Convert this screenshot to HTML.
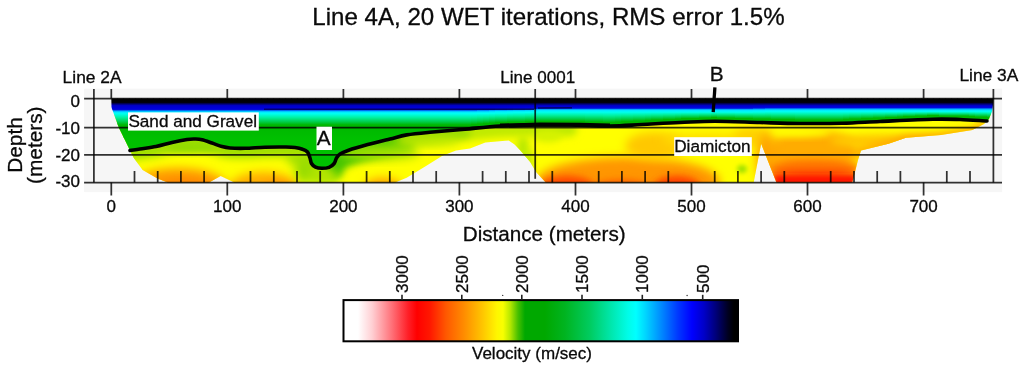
<!DOCTYPE html><html><head><meta charset="utf-8"><title>Line 4A</title>
<style>html,body{margin:0;padding:0;background:#fff;overflow:hidden}svg{display:block}text{font-family:"Liberation Sans",Arial,sans-serif;fill:#0a0a0a;stroke:#0a0a0a;stroke-width:0.3px}</style></head><body>
<svg width="1024" height="369" viewBox="0 0 1024 369">
<defs>
<clipPath id="cf"><path d="M111.3 98.6L993.3 98.6L993.0 105.0L992.0 111.4L989.0 119.0L984.0 124.0L972.4 130.0L941.0 134.9L906.0 137.8L888.5 143.7L861.0 150.5L858.0 160.0L852.3 182.5L776.4 182.5L761.1 143.5L753.7 182.5L545.8 182.5L536.0 172.0L530.2 162.0L520.4 150.4L514.6 144.6L508.7 140.6L505.0 140.7L485.3 142.6L470.0 148.4L456.0 150.4L442.0 156.0L426.0 166.0L406.7 177.7L395.0 182.5L234.4 182.5L220.7 176.0L209.0 182.5L168.0 182.5L158.0 178.7L142.6 170.0L133.8 158.0L130.0 150.5L118.8 127.7L113.2 112.0L112.0 109.0L111.5 107.0Z"/></clipPath>
<clipPath id="ca"><path d="M100 90L1000 90L1000 121L987 121C982.5 120.8 969.0 119.8 960.0 119.5C951.0 119.2 946.3 118.9 933.0 119.2C919.7 119.5 895.2 120.8 880.0 121.5C864.8 122.2 855.3 123.0 842.0 123.3C828.7 123.6 813.7 123.6 800.0 123.5C786.3 123.4 774.2 122.9 760.0 122.5C745.8 122.1 728.3 121.2 715.0 121.2C701.7 121.2 692.2 122.0 680.0 122.5C667.8 123.0 653.7 123.9 642.0 124.5C630.3 125.1 622.0 125.9 610.0 126.0C598.0 126.1 582.5 125.2 570.0 125.0C557.5 124.8 546.7 124.8 535.0 125.0C523.3 125.2 511.7 125.3 500.0 126.0C488.3 126.7 476.7 128.1 465.0 129.2C453.3 130.2 439.7 131.4 430.0 132.3C420.3 133.2 413.4 133.8 406.7 134.9C400.0 136.0 396.5 137.4 390.0 139.0C383.5 140.6 374.7 142.7 367.7 144.6C360.7 146.5 352.6 148.9 348.0 150.5C343.4 152.1 341.9 152.8 340.0 154.0C338.1 155.2 337.5 156.4 336.5 158.0C335.5 159.6 335.4 161.9 334.2 163.5C332.9 165.1 331.0 166.5 329.0 167.3C327.0 168.1 324.2 168.3 322.0 168.3C319.8 168.3 317.2 168.0 315.5 167.2C313.8 166.4 312.4 165.0 311.5 163.5C310.6 162.0 310.7 159.9 310.0 158.0C309.3 156.1 308.8 153.5 307.5 152.0C306.2 150.5 304.6 149.9 302.5 149.2C300.4 148.4 298.1 147.9 295.0 147.5C291.9 147.1 289.0 147.1 284.0 147.0C279.0 146.9 271.5 147.0 265.0 147.2C258.5 147.4 250.8 148.2 245.0 148.3C239.2 148.4 233.8 148.3 230.0 148.0C226.2 147.7 225.0 147.4 222.0 146.6C219.0 145.8 215.3 144.1 212.0 143.0C208.7 141.9 204.8 140.5 202.0 139.8C199.2 139.1 197.5 139.1 195.0 139.0C192.5 138.9 190.8 138.9 187.0 139.5C183.2 140.1 177.2 141.3 172.0 142.5C166.8 143.7 161.3 145.5 156.0 146.6C150.7 147.7 144.3 148.3 140.0 149.0C135.7 149.7 131.7 150.2 130.0 150.5L100 150.5Z"/></clipPath>
<filter id="b2" x="-50%" y="-50%" width="200%" height="200%"><feGaussianBlur stdDeviation="2"/></filter>
<filter id="b3" x="-50%" y="-50%" width="200%" height="200%"><feGaussianBlur stdDeviation="3.5"/></filter>
<filter id="b5" x="-50%" y="-50%" width="200%" height="200%"><feGaussianBlur stdDeviation="5"/></filter>
<filter id="b8" x="-50%" y="-50%" width="200%" height="200%"><feGaussianBlur stdDeviation="8"/></filter>
<linearGradient id="g250_554" gradientUnits="userSpaceOnUse" x1="0" y1="0" x2="0" y2="200"><stop offset="0.4900" stop-color="#000000"/><stop offset="0.5120" stop-color="#000008"/><stop offset="0.5200" stop-color="#000070"/><stop offset="0.5280" stop-color="#0000c8"/><stop offset="0.5430" stop-color="#0000dc"/><stop offset="0.5495" stop-color="#0010d8"/><stop offset="0.5540" stop-color="#0098ff"/><stop offset="0.5605" stop-color="#00e8ff"/><stop offset="0.5685" stop-color="#00fff0"/><stop offset="0.5876" stop-color="#00f0a0"/><stop offset="0.6074" stop-color="#00d050"/><stop offset="0.6250" stop-color="#00b600"/><stop offset="0.6950" stop-color="#00c000"/><stop offset="1.0000" stop-color="#00c400"/></linearGradient>
<linearGradient id="g249_554" gradientUnits="userSpaceOnUse" x1="0" y1="0" x2="0" y2="200"><stop offset="0.4900" stop-color="#000000"/><stop offset="0.5120" stop-color="#000008"/><stop offset="0.5200" stop-color="#000070"/><stop offset="0.5280" stop-color="#0000c8"/><stop offset="0.5430" stop-color="#0000dc"/><stop offset="0.5495" stop-color="#0010d8"/><stop offset="0.5540" stop-color="#0098ff"/><stop offset="0.5605" stop-color="#00e8ff"/><stop offset="0.5685" stop-color="#00fff0"/><stop offset="0.5867" stop-color="#00f0a0"/><stop offset="0.6057" stop-color="#00d050"/><stop offset="0.6225" stop-color="#00b600"/><stop offset="0.6925" stop-color="#00c000"/><stop offset="1.0000" stop-color="#00c400"/></linearGradient>
<linearGradient id="g248_553" gradientUnits="userSpaceOnUse" x1="0" y1="0" x2="0" y2="200"><stop offset="0.4900" stop-color="#000000"/><stop offset="0.5120" stop-color="#000008"/><stop offset="0.5200" stop-color="#000070"/><stop offset="0.5280" stop-color="#0000c8"/><stop offset="0.5420" stop-color="#0000dc"/><stop offset="0.5485" stop-color="#0010d8"/><stop offset="0.5530" stop-color="#0098ff"/><stop offset="0.5595" stop-color="#00e8ff"/><stop offset="0.5675" stop-color="#00fff0"/><stop offset="0.5851" stop-color="#00f0a0"/><stop offset="0.6037" stop-color="#00d050"/><stop offset="0.6200" stop-color="#00b600"/><stop offset="0.6900" stop-color="#00c000"/><stop offset="1.0000" stop-color="#00c400"/></linearGradient>
<linearGradient id="g247_553" gradientUnits="userSpaceOnUse" x1="0" y1="0" x2="0" y2="200"><stop offset="0.4900" stop-color="#000000"/><stop offset="0.5120" stop-color="#000008"/><stop offset="0.5200" stop-color="#000070"/><stop offset="0.5280" stop-color="#0000c8"/><stop offset="0.5420" stop-color="#0000dc"/><stop offset="0.5485" stop-color="#0010d8"/><stop offset="0.5530" stop-color="#0098ff"/><stop offset="0.5595" stop-color="#00e8ff"/><stop offset="0.5675" stop-color="#00fff0"/><stop offset="0.5842" stop-color="#00f0a0"/><stop offset="0.6019" stop-color="#00d050"/><stop offset="0.6175" stop-color="#00b600"/><stop offset="0.6875" stop-color="#00c000"/><stop offset="1.0000" stop-color="#00c400"/></linearGradient>
<linearGradient id="g246_552" gradientUnits="userSpaceOnUse" x1="0" y1="0" x2="0" y2="200"><stop offset="0.4900" stop-color="#000000"/><stop offset="0.5120" stop-color="#000008"/><stop offset="0.5200" stop-color="#000070"/><stop offset="0.5280" stop-color="#0000c8"/><stop offset="0.5410" stop-color="#0000dc"/><stop offset="0.5475" stop-color="#0010d8"/><stop offset="0.5520" stop-color="#0098ff"/><stop offset="0.5585" stop-color="#00e8ff"/><stop offset="0.5665" stop-color="#00fff0"/><stop offset="0.5827" stop-color="#00f0a0"/><stop offset="0.5998" stop-color="#00d050"/><stop offset="0.6150" stop-color="#00b600"/><stop offset="0.6850" stop-color="#00c000"/><stop offset="1.0000" stop-color="#00c400"/></linearGradient>
<linearGradient id="g245_551" gradientUnits="userSpaceOnUse" x1="0" y1="0" x2="0" y2="200"><stop offset="0.4900" stop-color="#000000"/><stop offset="0.5120" stop-color="#000008"/><stop offset="0.5200" stop-color="#000070"/><stop offset="0.5280" stop-color="#0000c8"/><stop offset="0.5400" stop-color="#0000dc"/><stop offset="0.5465" stop-color="#0010d8"/><stop offset="0.5510" stop-color="#0098ff"/><stop offset="0.5575" stop-color="#00e8ff"/><stop offset="0.5655" stop-color="#00fff0"/><stop offset="0.5811" stop-color="#00f0a0"/><stop offset="0.5978" stop-color="#00d050"/><stop offset="0.6125" stop-color="#00b600"/><stop offset="0.6825" stop-color="#00c000"/><stop offset="1.0000" stop-color="#00c400"/></linearGradient>
<linearGradient id="g244_550" gradientUnits="userSpaceOnUse" x1="0" y1="0" x2="0" y2="200"><stop offset="0.4900" stop-color="#000000"/><stop offset="0.5120" stop-color="#000008"/><stop offset="0.5200" stop-color="#000070"/><stop offset="0.5280" stop-color="#0000c8"/><stop offset="0.5390" stop-color="#0000dc"/><stop offset="0.5455" stop-color="#0010d8"/><stop offset="0.5500" stop-color="#0098ff"/><stop offset="0.5565" stop-color="#00e8ff"/><stop offset="0.5645" stop-color="#00fff0"/><stop offset="0.5796" stop-color="#00f0a0"/><stop offset="0.5958" stop-color="#00d050"/><stop offset="0.6100" stop-color="#00b600"/><stop offset="0.6800" stop-color="#00c000"/><stop offset="1.0000" stop-color="#00c400"/></linearGradient>
<linearGradient id="g244_549" gradientUnits="userSpaceOnUse" x1="0" y1="0" x2="0" y2="200"><stop offset="0.4900" stop-color="#000000"/><stop offset="0.5120" stop-color="#000008"/><stop offset="0.5200" stop-color="#000070"/><stop offset="0.5280" stop-color="#0000c8"/><stop offset="0.5380" stop-color="#0000dc"/><stop offset="0.5445" stop-color="#0010d8"/><stop offset="0.5490" stop-color="#0098ff"/><stop offset="0.5555" stop-color="#00e8ff"/><stop offset="0.5635" stop-color="#00fff0"/><stop offset="0.5790" stop-color="#00f0a0"/><stop offset="0.5955" stop-color="#00d050"/><stop offset="0.6100" stop-color="#00b600"/><stop offset="0.6800" stop-color="#00c000"/><stop offset="1.0000" stop-color="#00c400"/></linearGradient>
<linearGradient id="g243_548" gradientUnits="userSpaceOnUse" x1="0" y1="0" x2="0" y2="200"><stop offset="0.4900" stop-color="#000000"/><stop offset="0.5120" stop-color="#000008"/><stop offset="0.5200" stop-color="#000070"/><stop offset="0.5280" stop-color="#0000c8"/><stop offset="0.5370" stop-color="#0000dc"/><stop offset="0.5435" stop-color="#0010d8"/><stop offset="0.5480" stop-color="#0098ff"/><stop offset="0.5545" stop-color="#00e8ff"/><stop offset="0.5625" stop-color="#00fff0"/><stop offset="0.5774" stop-color="#00f0a0"/><stop offset="0.5934" stop-color="#00d050"/><stop offset="0.6075" stop-color="#00b600"/><stop offset="0.6775" stop-color="#00c000"/><stop offset="1.0000" stop-color="#00c400"/></linearGradient>
<linearGradient id="g243_547" gradientUnits="userSpaceOnUse" x1="0" y1="0" x2="0" y2="200"><stop offset="0.4900" stop-color="#000000"/><stop offset="0.5120" stop-color="#000008"/><stop offset="0.5200" stop-color="#000070"/><stop offset="0.5280" stop-color="#0000c8"/><stop offset="0.5360" stop-color="#0000dc"/><stop offset="0.5425" stop-color="#0010d8"/><stop offset="0.5470" stop-color="#0098ff"/><stop offset="0.5535" stop-color="#00e8ff"/><stop offset="0.5615" stop-color="#00fff0"/><stop offset="0.5768" stop-color="#00f0a0"/><stop offset="0.5931" stop-color="#00d050"/><stop offset="0.6075" stop-color="#00b600"/><stop offset="0.6775" stop-color="#00c000"/><stop offset="1.0000" stop-color="#00c400"/></linearGradient>
<linearGradient id="g243_546" gradientUnits="userSpaceOnUse" x1="0" y1="0" x2="0" y2="200"><stop offset="0.4900" stop-color="#000000"/><stop offset="0.5120" stop-color="#000008"/><stop offset="0.5200" stop-color="#000070"/><stop offset="0.5280" stop-color="#0000c8"/><stop offset="0.5350" stop-color="#0000dc"/><stop offset="0.5415" stop-color="#0010d8"/><stop offset="0.5460" stop-color="#0098ff"/><stop offset="0.5525" stop-color="#00e8ff"/><stop offset="0.5605" stop-color="#00fff0"/><stop offset="0.5761" stop-color="#00f0a0"/><stop offset="0.5928" stop-color="#00d050"/><stop offset="0.6075" stop-color="#00b600"/><stop offset="0.6775" stop-color="#00c000"/><stop offset="1.0000" stop-color="#00c400"/></linearGradient>
<linearGradient id="g244_546" gradientUnits="userSpaceOnUse" x1="0" y1="0" x2="0" y2="200"><stop offset="0.4900" stop-color="#000000"/><stop offset="0.5120" stop-color="#000008"/><stop offset="0.5200" stop-color="#000070"/><stop offset="0.5280" stop-color="#0000c8"/><stop offset="0.5350" stop-color="#0000dc"/><stop offset="0.5415" stop-color="#0010d8"/><stop offset="0.5460" stop-color="#0098ff"/><stop offset="0.5525" stop-color="#00e8ff"/><stop offset="0.5605" stop-color="#00fff0"/><stop offset="0.5770" stop-color="#00f0a0"/><stop offset="0.5946" stop-color="#00d050"/><stop offset="0.6100" stop-color="#00b600"/><stop offset="0.6800" stop-color="#00c000"/><stop offset="1.0000" stop-color="#00c400"/></linearGradient>
<linearGradient id="g245_546" gradientUnits="userSpaceOnUse" x1="0" y1="0" x2="0" y2="200"><stop offset="0.4900" stop-color="#000000"/><stop offset="0.5120" stop-color="#000008"/><stop offset="0.5200" stop-color="#000070"/><stop offset="0.5280" stop-color="#0000c8"/><stop offset="0.5350" stop-color="#0000dc"/><stop offset="0.5415" stop-color="#0010d8"/><stop offset="0.5460" stop-color="#0098ff"/><stop offset="0.5525" stop-color="#00e8ff"/><stop offset="0.5605" stop-color="#00fff0"/><stop offset="0.5779" stop-color="#00f0a0"/><stop offset="0.5963" stop-color="#00d050"/><stop offset="0.6125" stop-color="#00b600"/><stop offset="0.6825" stop-color="#00c000"/><stop offset="1.0000" stop-color="#00c400"/></linearGradient>
<linearGradient id="g242_546" gradientUnits="userSpaceOnUse" x1="0" y1="0" x2="0" y2="200"><stop offset="0.4900" stop-color="#000000"/><stop offset="0.5120" stop-color="#000008"/><stop offset="0.5200" stop-color="#000070"/><stop offset="0.5280" stop-color="#0000c8"/><stop offset="0.5350" stop-color="#0000dc"/><stop offset="0.5415" stop-color="#0010d8"/><stop offset="0.5460" stop-color="#0098ff"/><stop offset="0.5525" stop-color="#00e8ff"/><stop offset="0.5605" stop-color="#00fff0"/><stop offset="0.5752" stop-color="#00f0a0"/><stop offset="0.5911" stop-color="#00d050"/><stop offset="0.6050" stop-color="#00b600"/><stop offset="0.6750" stop-color="#00c000"/><stop offset="1.0000" stop-color="#00c400"/></linearGradient>
<linearGradient id="g241_546" gradientUnits="userSpaceOnUse" x1="0" y1="0" x2="0" y2="200"><stop offset="0.4900" stop-color="#000000"/><stop offset="0.5120" stop-color="#000008"/><stop offset="0.5200" stop-color="#000070"/><stop offset="0.5280" stop-color="#0000c8"/><stop offset="0.5350" stop-color="#0000dc"/><stop offset="0.5415" stop-color="#0010d8"/><stop offset="0.5460" stop-color="#0098ff"/><stop offset="0.5525" stop-color="#00e8ff"/><stop offset="0.5605" stop-color="#00fff0"/><stop offset="0.5743" stop-color="#00f0a0"/><stop offset="0.5893" stop-color="#00d050"/><stop offset="0.6025" stop-color="#00b600"/><stop offset="0.6725" stop-color="#00c000"/><stop offset="1.0000" stop-color="#00c400"/></linearGradient>
<linearGradient id="g240_546" gradientUnits="userSpaceOnUse" x1="0" y1="0" x2="0" y2="200"><stop offset="0.4900" stop-color="#000000"/><stop offset="0.5120" stop-color="#000008"/><stop offset="0.5200" stop-color="#000070"/><stop offset="0.5280" stop-color="#0000c8"/><stop offset="0.5350" stop-color="#0000dc"/><stop offset="0.5415" stop-color="#0010d8"/><stop offset="0.5460" stop-color="#0098ff"/><stop offset="0.5525" stop-color="#00e8ff"/><stop offset="0.5605" stop-color="#00fff0"/><stop offset="0.5734" stop-color="#00f0a0"/><stop offset="0.5876" stop-color="#00d050"/><stop offset="0.6000" stop-color="#00b600"/><stop offset="0.6700" stop-color="#00c000"/><stop offset="1.0000" stop-color="#00c400"/></linearGradient>
<linearGradient id="g239_546" gradientUnits="userSpaceOnUse" x1="0" y1="0" x2="0" y2="200"><stop offset="0.4900" stop-color="#000000"/><stop offset="0.5120" stop-color="#000008"/><stop offset="0.5200" stop-color="#000070"/><stop offset="0.5280" stop-color="#0000c8"/><stop offset="0.5350" stop-color="#0000dc"/><stop offset="0.5415" stop-color="#0010d8"/><stop offset="0.5460" stop-color="#0098ff"/><stop offset="0.5525" stop-color="#00e8ff"/><stop offset="0.5605" stop-color="#00fff0"/><stop offset="0.5725" stop-color="#00f0a0"/><stop offset="0.5858" stop-color="#00d050"/><stop offset="0.5975" stop-color="#00b600"/><stop offset="0.6675" stop-color="#00c000"/><stop offset="1.0000" stop-color="#00c400"/></linearGradient>
<linearGradient id="g238_546" gradientUnits="userSpaceOnUse" x1="0" y1="0" x2="0" y2="200"><stop offset="0.4900" stop-color="#000000"/><stop offset="0.5120" stop-color="#000008"/><stop offset="0.5200" stop-color="#000070"/><stop offset="0.5280" stop-color="#0000c8"/><stop offset="0.5350" stop-color="#0000dc"/><stop offset="0.5415" stop-color="#0010d8"/><stop offset="0.5460" stop-color="#0098ff"/><stop offset="0.5525" stop-color="#00e8ff"/><stop offset="0.5605" stop-color="#00fff0"/><stop offset="0.5716" stop-color="#00f0a0"/><stop offset="0.5840" stop-color="#00d050"/><stop offset="0.5950" stop-color="#00b600"/><stop offset="0.6650" stop-color="#00c000"/><stop offset="1.0000" stop-color="#00c400"/></linearGradient>
<linearGradient id="g237_546" gradientUnits="userSpaceOnUse" x1="0" y1="0" x2="0" y2="200"><stop offset="0.4900" stop-color="#000000"/><stop offset="0.5120" stop-color="#000008"/><stop offset="0.5200" stop-color="#000070"/><stop offset="0.5280" stop-color="#0000c8"/><stop offset="0.5350" stop-color="#0000dc"/><stop offset="0.5415" stop-color="#0010d8"/><stop offset="0.5460" stop-color="#0098ff"/><stop offset="0.5525" stop-color="#00e8ff"/><stop offset="0.5605" stop-color="#00fff0"/><stop offset="0.5707" stop-color="#00f0a0"/><stop offset="0.5823" stop-color="#00d050"/><stop offset="0.5925" stop-color="#00b600"/><stop offset="0.6625" stop-color="#00c000"/><stop offset="1.0000" stop-color="#00c400"/></linearGradient>
<linearGradient id="g236_546" gradientUnits="userSpaceOnUse" x1="0" y1="0" x2="0" y2="200"><stop offset="0.4900" stop-color="#000000"/><stop offset="0.5120" stop-color="#000008"/><stop offset="0.5200" stop-color="#000070"/><stop offset="0.5280" stop-color="#0000c8"/><stop offset="0.5350" stop-color="#0000dc"/><stop offset="0.5415" stop-color="#0010d8"/><stop offset="0.5460" stop-color="#0098ff"/><stop offset="0.5525" stop-color="#00e8ff"/><stop offset="0.5605" stop-color="#00fff0"/><stop offset="0.5698" stop-color="#00f0a0"/><stop offset="0.5806" stop-color="#00d050"/><stop offset="0.5900" stop-color="#00b600"/><stop offset="0.6600" stop-color="#00c000"/><stop offset="1.0000" stop-color="#00c400"/></linearGradient>
<linearGradient id="g235_546" gradientUnits="userSpaceOnUse" x1="0" y1="0" x2="0" y2="200"><stop offset="0.4900" stop-color="#000000"/><stop offset="0.5120" stop-color="#000008"/><stop offset="0.5200" stop-color="#000070"/><stop offset="0.5280" stop-color="#0000c8"/><stop offset="0.5350" stop-color="#0000dc"/><stop offset="0.5415" stop-color="#0010d8"/><stop offset="0.5460" stop-color="#0098ff"/><stop offset="0.5525" stop-color="#00e8ff"/><stop offset="0.5605" stop-color="#00fff0"/><stop offset="0.5689" stop-color="#00f0a0"/><stop offset="0.5788" stop-color="#00d050"/><stop offset="0.5875" stop-color="#00b600"/><stop offset="0.6575" stop-color="#00c000"/><stop offset="1.0000" stop-color="#00c400"/></linearGradient>
<linearGradient id="g238_545" gradientUnits="userSpaceOnUse" x1="0" y1="0" x2="0" y2="200"><stop offset="0.4900" stop-color="#000000"/><stop offset="0.5120" stop-color="#000008"/><stop offset="0.5200" stop-color="#000070"/><stop offset="0.5280" stop-color="#0000c8"/><stop offset="0.5340" stop-color="#0000dc"/><stop offset="0.5405" stop-color="#0010d8"/><stop offset="0.5450" stop-color="#0098ff"/><stop offset="0.5515" stop-color="#00e8ff"/><stop offset="0.5595" stop-color="#00fff0"/><stop offset="0.5710" stop-color="#00f0a0"/><stop offset="0.5837" stop-color="#00d050"/><stop offset="0.5950" stop-color="#00b600"/><stop offset="0.6650" stop-color="#00c000"/><stop offset="1.0000" stop-color="#00c400"/></linearGradient>
<linearGradient id="g238_544" gradientUnits="userSpaceOnUse" x1="0" y1="0" x2="0" y2="200"><stop offset="0.4900" stop-color="#000000"/><stop offset="0.5120" stop-color="#000008"/><stop offset="0.5200" stop-color="#000070"/><stop offset="0.5280" stop-color="#0000c8"/><stop offset="0.5330" stop-color="#0000dc"/><stop offset="0.5395" stop-color="#0010d8"/><stop offset="0.5440" stop-color="#0098ff"/><stop offset="0.5505" stop-color="#00e8ff"/><stop offset="0.5585" stop-color="#00fff0"/><stop offset="0.5704" stop-color="#00f0a0"/><stop offset="0.5835" stop-color="#00d050"/><stop offset="0.5950" stop-color="#00b600"/><stop offset="0.6650" stop-color="#00c000"/><stop offset="1.0000" stop-color="#00c400"/></linearGradient>
<linearGradient id="g239_544" gradientUnits="userSpaceOnUse" x1="0" y1="0" x2="0" y2="200"><stop offset="0.4900" stop-color="#000000"/><stop offset="0.5120" stop-color="#000008"/><stop offset="0.5200" stop-color="#000070"/><stop offset="0.5280" stop-color="#0000c8"/><stop offset="0.5330" stop-color="#0000dc"/><stop offset="0.5395" stop-color="#0010d8"/><stop offset="0.5440" stop-color="#0098ff"/><stop offset="0.5505" stop-color="#00e8ff"/><stop offset="0.5585" stop-color="#00fff0"/><stop offset="0.5713" stop-color="#00f0a0"/><stop offset="0.5852" stop-color="#00d050"/><stop offset="0.5975" stop-color="#00b600"/><stop offset="0.6675" stop-color="#00c000"/><stop offset="1.0000" stop-color="#00c400"/></linearGradient>
<linearGradient id="g240_544" gradientUnits="userSpaceOnUse" x1="0" y1="0" x2="0" y2="200"><stop offset="0.4900" stop-color="#000000"/><stop offset="0.5120" stop-color="#000008"/><stop offset="0.5200" stop-color="#000070"/><stop offset="0.5280" stop-color="#0000c8"/><stop offset="0.5330" stop-color="#0000dc"/><stop offset="0.5395" stop-color="#0010d8"/><stop offset="0.5440" stop-color="#0098ff"/><stop offset="0.5505" stop-color="#00e8ff"/><stop offset="0.5585" stop-color="#00fff0"/><stop offset="0.5722" stop-color="#00f0a0"/><stop offset="0.5869" stop-color="#00d050"/><stop offset="0.6000" stop-color="#00b600"/><stop offset="0.6700" stop-color="#00c000"/><stop offset="1.0000" stop-color="#00c400"/></linearGradient>
<linearGradient id="g237_544" gradientUnits="userSpaceOnUse" x1="0" y1="0" x2="0" y2="200"><stop offset="0.4900" stop-color="#000000"/><stop offset="0.5120" stop-color="#000008"/><stop offset="0.5200" stop-color="#000070"/><stop offset="0.5280" stop-color="#0000c8"/><stop offset="0.5330" stop-color="#0000dc"/><stop offset="0.5395" stop-color="#0010d8"/><stop offset="0.5440" stop-color="#0098ff"/><stop offset="0.5505" stop-color="#00e8ff"/><stop offset="0.5585" stop-color="#00fff0"/><stop offset="0.5695" stop-color="#00f0a0"/><stop offset="0.5817" stop-color="#00d050"/><stop offset="0.5925" stop-color="#00b600"/><stop offset="0.6625" stop-color="#00c000"/><stop offset="1.0000" stop-color="#00c400"/></linearGradient>
<linearGradient id="g236_544" gradientUnits="userSpaceOnUse" x1="0" y1="0" x2="0" y2="200"><stop offset="0.4900" stop-color="#000000"/><stop offset="0.5120" stop-color="#000008"/><stop offset="0.5200" stop-color="#000070"/><stop offset="0.5280" stop-color="#0000c8"/><stop offset="0.5330" stop-color="#0000dc"/><stop offset="0.5395" stop-color="#0010d8"/><stop offset="0.5440" stop-color="#0098ff"/><stop offset="0.5505" stop-color="#00e8ff"/><stop offset="0.5585" stop-color="#00fff0"/><stop offset="0.5686" stop-color="#00f0a0"/><stop offset="0.5799" stop-color="#00d050"/><stop offset="0.5900" stop-color="#00b600"/><stop offset="0.6600" stop-color="#00c000"/><stop offset="1.0000" stop-color="#00c400"/></linearGradient>
<linearGradient id="g235_544" gradientUnits="userSpaceOnUse" x1="0" y1="0" x2="0" y2="200"><stop offset="0.4900" stop-color="#000000"/><stop offset="0.5120" stop-color="#000008"/><stop offset="0.5200" stop-color="#000070"/><stop offset="0.5280" stop-color="#0000c8"/><stop offset="0.5330" stop-color="#0000dc"/><stop offset="0.5395" stop-color="#0010d8"/><stop offset="0.5440" stop-color="#0098ff"/><stop offset="0.5505" stop-color="#00e8ff"/><stop offset="0.5585" stop-color="#00fff0"/><stop offset="0.5677" stop-color="#00f0a0"/><stop offset="0.5782" stop-color="#00d050"/><stop offset="0.5875" stop-color="#00b600"/><stop offset="0.6575" stop-color="#00c000"/><stop offset="1.0000" stop-color="#00c400"/></linearGradient>
<linearGradient id="g234_544" gradientUnits="userSpaceOnUse" x1="0" y1="0" x2="0" y2="200"><stop offset="0.4900" stop-color="#000000"/><stop offset="0.5120" stop-color="#000008"/><stop offset="0.5200" stop-color="#000070"/><stop offset="0.5280" stop-color="#0000c8"/><stop offset="0.5330" stop-color="#0000dc"/><stop offset="0.5395" stop-color="#0010d8"/><stop offset="0.5440" stop-color="#0098ff"/><stop offset="0.5505" stop-color="#00e8ff"/><stop offset="0.5585" stop-color="#00fff0"/><stop offset="0.5668" stop-color="#00f0a0"/><stop offset="0.5764" stop-color="#00d050"/><stop offset="0.5850" stop-color="#00b600"/><stop offset="0.6550" stop-color="#00c000"/><stop offset="1.0000" stop-color="#00c400"/></linearGradient>
<linearGradient id="g233_544" gradientUnits="userSpaceOnUse" x1="0" y1="0" x2="0" y2="200"><stop offset="0.4900" stop-color="#000000"/><stop offset="0.5120" stop-color="#000008"/><stop offset="0.5200" stop-color="#000070"/><stop offset="0.5280" stop-color="#0000c8"/><stop offset="0.5330" stop-color="#0000dc"/><stop offset="0.5395" stop-color="#0010d8"/><stop offset="0.5440" stop-color="#0098ff"/><stop offset="0.5505" stop-color="#00e8ff"/><stop offset="0.5585" stop-color="#00fff0"/><stop offset="0.5659" stop-color="#00f0a0"/><stop offset="0.5747" stop-color="#00d050"/><stop offset="0.5825" stop-color="#00b600"/><stop offset="0.6525" stop-color="#00c000"/><stop offset="1.0000" stop-color="#00c400"/></linearGradient>
<linearGradient id="g232_544" gradientUnits="userSpaceOnUse" x1="0" y1="0" x2="0" y2="200"><stop offset="0.4900" stop-color="#000000"/><stop offset="0.5120" stop-color="#000008"/><stop offset="0.5200" stop-color="#000070"/><stop offset="0.5280" stop-color="#0000c8"/><stop offset="0.5330" stop-color="#0000dc"/><stop offset="0.5395" stop-color="#0010d8"/><stop offset="0.5440" stop-color="#0098ff"/><stop offset="0.5505" stop-color="#00e8ff"/><stop offset="0.5585" stop-color="#00fff0"/><stop offset="0.5650" stop-color="#00f0a0"/><stop offset="0.5730" stop-color="#00d050"/><stop offset="0.5800" stop-color="#00b600"/><stop offset="0.6500" stop-color="#00c000"/><stop offset="1.0000" stop-color="#00c400"/></linearGradient>
<linearGradient id="g231_544" gradientUnits="userSpaceOnUse" x1="0" y1="0" x2="0" y2="200"><stop offset="0.4900" stop-color="#000000"/><stop offset="0.5120" stop-color="#000008"/><stop offset="0.5200" stop-color="#000070"/><stop offset="0.5280" stop-color="#0000c8"/><stop offset="0.5330" stop-color="#0000dc"/><stop offset="0.5395" stop-color="#0010d8"/><stop offset="0.5440" stop-color="#0098ff"/><stop offset="0.5505" stop-color="#00e8ff"/><stop offset="0.5585" stop-color="#00fff0"/><stop offset="0.5641" stop-color="#00f0a0"/><stop offset="0.5712" stop-color="#00d050"/><stop offset="0.5775" stop-color="#00b600"/><stop offset="0.6475" stop-color="#00c000"/><stop offset="1.0000" stop-color="#00c400"/></linearGradient>
<linearGradient id="cbg" gradientUnits="userSpaceOnUse" x1="343.5" y1="0" x2="738" y2="0"><stop offset="0.0000" stop-color="#ffffff"/><stop offset="0.0368" stop-color="#ffffff"/><stop offset="0.0722" stop-color="#ffd0d4"/><stop offset="0.1229" stop-color="#ff7078"/><stop offset="0.1635" stop-color="#ff2028"/><stop offset="0.1863" stop-color="#ff0000"/><stop offset="0.2193" stop-color="#ff1800"/><stop offset="0.2598" stop-color="#ff5800"/><stop offset="0.3054" stop-color="#ff8c00"/><stop offset="0.3511" stop-color="#ffc400"/><stop offset="0.3891" stop-color="#fff600"/><stop offset="0.4043" stop-color="#f8ff00"/><stop offset="0.4221" stop-color="#b8e800"/><stop offset="0.4423" stop-color="#48c000"/><stop offset="0.4601" stop-color="#00a800"/><stop offset="0.5108" stop-color="#00a800"/><stop offset="0.5615" stop-color="#00b420"/><stop offset="0.6248" stop-color="#00cc60"/><stop offset="0.6806" stop-color="#00e8b0"/><stop offset="0.7212" stop-color="#00fce8"/><stop offset="0.7414" stop-color="#00ffff"/><stop offset="0.7643" stop-color="#00d8ff"/><stop offset="0.8023" stop-color="#0090ff"/><stop offset="0.8479" stop-color="#0038ff"/><stop offset="0.8834" stop-color="#0000ff"/><stop offset="0.9138" stop-color="#0000c8"/><stop offset="0.9442" stop-color="#000078"/><stop offset="0.9747" stop-color="#000020"/><stop offset="0.9899" stop-color="#000000"/><stop offset="1.0000" stop-color="#000000"/></linearGradient>
</defs>
<rect x="84.1" y="88.7" width="918" height="103.4" fill="#f6f6f6"/>
<g clip-path="url(#cf)">
<rect x="100" y="114" width="900" height="76" fill="#ffff00"/>
<g filter="url(#b3)" fill="none" stroke-linecap="round">
<path d="M130.0 150.5C131.7 150.2 135.7 149.7 140.0 149.0C144.3 148.3 150.7 147.7 156.0 146.6C161.3 145.5 166.8 143.7 172.0 142.5C177.2 141.3 183.2 140.1 187.0 139.5C190.8 138.9 192.5 138.9 195.0 139.0C197.5 139.1 199.2 139.1 202.0 139.8C204.8 140.5 208.7 141.9 212.0 143.0C215.3 144.1 219.0 145.8 222.0 146.6C225.0 147.4 226.2 147.7 230.0 148.0C233.8 148.3 239.2 148.4 245.0 148.3C250.8 148.2 258.5 147.4 265.0 147.2C271.5 147.0 279.0 146.9 284.0 147.0C289.0 147.1 291.9 147.1 295.0 147.5C298.1 147.9 300.4 148.4 302.5 149.2C304.6 149.9 306.2 150.5 307.5 152.0C308.8 153.5 309.3 156.1 310.0 158.0C310.7 159.9 310.6 162.0 311.5 163.5C312.4 165.0 313.8 166.4 315.5 167.2C317.2 168.0 319.8 168.3 322.0 168.3C324.2 168.3 327.0 168.1 329.0 167.3C331.0 166.5 332.9 165.1 334.2 163.5C335.4 161.9 335.5 159.6 336.5 158.0C337.5 156.4 338.1 155.2 340.0 154.0C341.9 152.8 343.4 152.1 348.0 150.5C352.6 148.9 360.7 146.5 367.7 144.6C374.7 142.7 383.5 140.6 390.0 139.0C396.5 137.4 400.0 136.0 406.7 134.9C413.4 133.8 420.3 133.2 430.0 132.3C439.7 131.4 453.3 130.2 465.0 129.2C476.7 128.1 488.3 126.7 500.0 126.0C511.7 125.3 523.3 125.2 535.0 125.0C546.7 124.8 564.2 125.0 570.0 125.0" stroke="#c0ea00" stroke-width="15" transform="translate(0,4)"/>
<path d="M130.0 150.5C131.7 150.2 135.7 149.7 140.0 149.0C144.3 148.3 150.7 147.7 156.0 146.6C161.3 145.5 166.8 143.7 172.0 142.5C177.2 141.3 183.2 140.1 187.0 139.5C190.8 138.9 192.5 138.9 195.0 139.0C197.5 139.1 199.2 139.1 202.0 139.8C204.8 140.5 208.7 141.9 212.0 143.0C215.3 144.1 219.0 145.8 222.0 146.6C225.0 147.4 226.2 147.7 230.0 148.0C233.8 148.3 239.2 148.4 245.0 148.3C250.8 148.2 258.5 147.4 265.0 147.2C271.5 147.0 279.0 146.9 284.0 147.0C289.0 147.1 291.9 147.1 295.0 147.5C298.1 147.9 300.4 148.4 302.5 149.2C304.6 149.9 306.2 150.5 307.5 152.0C308.8 153.5 309.3 156.1 310.0 158.0C310.7 159.9 311.2 162.6 311.5 163.5" stroke="#94dc00" stroke-width="8" transform="translate(0,3)"/>
<path d="M334.2 163.5C334.6 162.6 335.5 159.6 336.5 158.0C337.5 156.4 338.1 155.2 340.0 154.0C341.9 152.8 343.4 152.1 348.0 150.5C352.6 148.9 360.7 146.5 367.7 144.6C374.7 142.7 383.5 140.6 390.0 139.0C396.5 137.4 403.9 135.6 406.7 134.9" stroke="#44c400" stroke-width="19" transform="translate(0,6)"/>
<path d="M406.7 134.9C410.6 134.5 420.3 133.2 430.0 132.3C439.7 131.4 459.2 129.7 465.0 129.2" stroke="#98dc00" stroke-width="12" transform="translate(0,4)"/>
</g>
<ellipse cx="178" cy="188" rx="50" ry="20" fill="#ff9a00" filter="url(#b5)"/>
<ellipse cx="184" cy="189" rx="30" ry="10" fill="#ff8400" filter="url(#b3)"/>
<ellipse cx="264" cy="189" rx="36" ry="17" fill="#ffac00" filter="url(#b5)"/>
<ellipse cx="276" cy="189" rx="16" ry="8" fill="#ff9800" filter="url(#b3)"/>
<ellipse cx="383" cy="188" rx="20" ry="10" fill="#ffa000" filter="url(#b5)"/>
<ellipse cx="192" cy="148" rx="26" ry="5" fill="#8cd800" filter="url(#b3)"/>
<ellipse cx="380" cy="153" rx="40" ry="7" fill="#a4e200" filter="url(#b5)"/>
<ellipse cx="425" cy="142" rx="35" ry="4" fill="#c0ea00" filter="url(#b5)"/>
<ellipse cx="322" cy="176" rx="16" ry="8" fill="#b0e400" filter="url(#b5)"/>
<ellipse cx="300" cy="158" rx="14" ry="8" fill="#a8e200" filter="url(#b5)"/>
<ellipse cx="304" cy="170" rx="9" ry="13" fill="#98dc00" filter="url(#b5)"/>
<ellipse cx="523" cy="148" rx="6" ry="12" fill="#b8e800" filter="url(#b3)"/>
<ellipse cx="528" cy="162" rx="5" ry="12" fill="#c0ea00" filter="url(#b3)"/>
<ellipse cx="548" cy="136" rx="14" ry="6" fill="#d4f200" filter="url(#b3)"/>
<ellipse cx="628" cy="182" rx="92" ry="25" fill="#ff9600" filter="url(#b5)"/>
<ellipse cx="655" cy="146" rx="30" ry="14" fill="#ffc800" filter="url(#b5)"/>
<ellipse cx="712" cy="140" rx="50" ry="7" fill="#ffdc00" filter="url(#b5)"/>
<ellipse cx="567" cy="188" rx="28" ry="12" fill="#ff4400" filter="url(#b3)"/>
<ellipse cx="677" cy="188" rx="24" ry="12" fill="#ff3c00" filter="url(#b3)"/>
<ellipse cx="622" cy="191" rx="34" ry="11" fill="#ff5a00" filter="url(#b3)"/>
<ellipse cx="755" cy="136" rx="22" ry="9" fill="#ffd000" filter="url(#b5)"/>
<ellipse cx="742" cy="169" rx="5" ry="4" fill="#a0e000" filter="url(#b2)"/>
<ellipse cx="812" cy="152" rx="48" ry="22" fill="#ffac00" filter="url(#b5)"/>
<ellipse cx="766" cy="160" rx="10" ry="26" fill="#ffa400" filter="url(#b5)"/>
<ellipse cx="815" cy="168" rx="46" ry="8" fill="#ff7000" filter="url(#b3)"/>
<ellipse cx="800" cy="132" rx="30" ry="5" fill="#ffff00" filter="url(#b3)"/>
<ellipse cx="885" cy="141" rx="55" ry="7" fill="#ffc800" filter="url(#b3)"/>
<rect x="772" y="173" width="86" height="14" fill="#ff1000" filter="url(#b3)"/>
<path d="M858 156L861 152L888.5 145.5L906 139.6L941 136.7L972.4 131.8L986 125" stroke="#ffa800" stroke-width="9" fill="none" filter="url(#b3)"/>
<g clip-path="url(#ca)">
<rect x="111.0" y="96" width="6.6" height="80" fill="url(#g250_554)"/>
<rect x="117.0" y="96" width="6.6" height="80" fill="url(#g250_554)"/>
<rect x="123.0" y="96" width="6.6" height="80" fill="url(#g250_554)"/>
<rect x="129.0" y="96" width="6.6" height="80" fill="url(#g250_554)"/>
<rect x="135.0" y="96" width="6.6" height="80" fill="url(#g250_554)"/>
<rect x="141.0" y="96" width="6.6" height="80" fill="url(#g250_554)"/>
<rect x="147.0" y="96" width="6.6" height="80" fill="url(#g250_554)"/>
<rect x="153.0" y="96" width="6.6" height="80" fill="url(#g250_554)"/>
<rect x="159.0" y="96" width="6.6" height="80" fill="url(#g250_554)"/>
<rect x="165.0" y="96" width="6.6" height="80" fill="url(#g250_554)"/>
<rect x="171.0" y="96" width="6.6" height="80" fill="url(#g250_554)"/>
<rect x="177.0" y="96" width="6.6" height="80" fill="url(#g250_554)"/>
<rect x="183.0" y="96" width="6.6" height="80" fill="url(#g250_554)"/>
<rect x="189.0" y="96" width="6.6" height="80" fill="url(#g250_554)"/>
<rect x="195.0" y="96" width="6.6" height="80" fill="url(#g250_554)"/>
<rect x="201.0" y="96" width="6.6" height="80" fill="url(#g250_554)"/>
<rect x="207.0" y="96" width="6.6" height="80" fill="url(#g250_554)"/>
<rect x="213.0" y="96" width="6.6" height="80" fill="url(#g250_554)"/>
<rect x="219.0" y="96" width="6.6" height="80" fill="url(#g250_554)"/>
<rect x="225.0" y="96" width="6.6" height="80" fill="url(#g250_554)"/>
<rect x="231.0" y="96" width="6.6" height="80" fill="url(#g250_554)"/>
<rect x="237.0" y="96" width="6.6" height="80" fill="url(#g250_554)"/>
<rect x="243.0" y="96" width="6.6" height="80" fill="url(#g250_554)"/>
<rect x="249.0" y="96" width="6.6" height="80" fill="url(#g250_554)"/>
<rect x="255.0" y="96" width="6.6" height="80" fill="url(#g250_554)"/>
<rect x="261.0" y="96" width="6.6" height="80" fill="url(#g250_554)"/>
<rect x="267.0" y="96" width="6.6" height="80" fill="url(#g250_554)"/>
<rect x="273.0" y="96" width="6.6" height="80" fill="url(#g250_554)"/>
<rect x="279.0" y="96" width="6.6" height="80" fill="url(#g250_554)"/>
<rect x="285.0" y="96" width="6.6" height="80" fill="url(#g250_554)"/>
<rect x="291.0" y="96" width="6.6" height="80" fill="url(#g250_554)"/>
<rect x="297.0" y="96" width="6.6" height="80" fill="url(#g250_554)"/>
<rect x="303.0" y="96" width="6.6" height="80" fill="url(#g250_554)"/>
<rect x="309.0" y="96" width="6.6" height="80" fill="url(#g250_554)"/>
<rect x="315.0" y="96" width="6.6" height="80" fill="url(#g250_554)"/>
<rect x="321.0" y="96" width="6.6" height="80" fill="url(#g250_554)"/>
<rect x="327.0" y="96" width="6.6" height="80" fill="url(#g250_554)"/>
<rect x="333.0" y="96" width="6.6" height="80" fill="url(#g250_554)"/>
<rect x="339.0" y="96" width="6.6" height="80" fill="url(#g250_554)"/>
<rect x="345.0" y="96" width="6.6" height="80" fill="url(#g250_554)"/>
<rect x="351.0" y="96" width="6.6" height="80" fill="url(#g250_554)"/>
<rect x="357.0" y="96" width="6.6" height="80" fill="url(#g250_554)"/>
<rect x="363.0" y="96" width="6.6" height="80" fill="url(#g250_554)"/>
<rect x="369.0" y="96" width="6.6" height="80" fill="url(#g250_554)"/>
<rect x="375.0" y="96" width="6.6" height="80" fill="url(#g250_554)"/>
<rect x="381.0" y="96" width="6.6" height="80" fill="url(#g250_554)"/>
<rect x="387.0" y="96" width="6.6" height="80" fill="url(#g250_554)"/>
<rect x="393.0" y="96" width="6.6" height="80" fill="url(#g250_554)"/>
<rect x="399.0" y="96" width="6.6" height="80" fill="url(#g250_554)"/>
<rect x="405.0" y="96" width="6.6" height="80" fill="url(#g250_554)"/>
<rect x="411.0" y="96" width="6.6" height="80" fill="url(#g250_554)"/>
<rect x="417.0" y="96" width="6.6" height="80" fill="url(#g250_554)"/>
<rect x="423.0" y="96" width="6.6" height="80" fill="url(#g250_554)"/>
<rect x="429.0" y="96" width="6.6" height="80" fill="url(#g250_554)"/>
<rect x="435.0" y="96" width="6.6" height="80" fill="url(#g250_554)"/>
<rect x="441.0" y="96" width="6.6" height="80" fill="url(#g250_554)"/>
<rect x="447.0" y="96" width="6.6" height="80" fill="url(#g250_554)"/>
<rect x="453.0" y="96" width="6.6" height="80" fill="url(#g250_554)"/>
<rect x="459.0" y="96" width="6.6" height="80" fill="url(#g250_554)"/>
<rect x="465.0" y="96" width="6.6" height="80" fill="url(#g250_554)"/>
<rect x="471.0" y="96" width="6.6" height="80" fill="url(#g249_554)"/>
<rect x="477.0" y="96" width="6.6" height="80" fill="url(#g248_553)"/>
<rect x="483.0" y="96" width="6.6" height="80" fill="url(#g247_553)"/>
<rect x="489.0" y="96" width="6.6" height="80" fill="url(#g246_552)"/>
<rect x="495.0" y="96" width="6.6" height="80" fill="url(#g245_551)"/>
<rect x="501.0" y="96" width="6.6" height="80" fill="url(#g245_551)"/>
<rect x="507.0" y="96" width="6.6" height="80" fill="url(#g244_550)"/>
<rect x="513.0" y="96" width="6.6" height="80" fill="url(#g244_549)"/>
<rect x="519.0" y="96" width="6.6" height="80" fill="url(#g244_549)"/>
<rect x="525.0" y="96" width="6.6" height="80" fill="url(#g243_548)"/>
<rect x="531.0" y="96" width="6.6" height="80" fill="url(#g243_547)"/>
<rect x="537.0" y="96" width="6.6" height="80" fill="url(#g243_546)"/>
<rect x="543.0" y="96" width="6.6" height="80" fill="url(#g243_546)"/>
<rect x="549.0" y="96" width="6.6" height="80" fill="url(#g243_546)"/>
<rect x="555.0" y="96" width="6.6" height="80" fill="url(#g243_546)"/>
<rect x="561.0" y="96" width="6.6" height="80" fill="url(#g243_546)"/>
<rect x="567.0" y="96" width="6.6" height="80" fill="url(#g243_546)"/>
<rect x="573.0" y="96" width="6.6" height="80" fill="url(#g243_546)"/>
<rect x="579.0" y="96" width="6.6" height="80" fill="url(#g243_546)"/>
<rect x="585.0" y="96" width="6.6" height="80" fill="url(#g244_546)"/>
<rect x="591.0" y="96" width="6.6" height="80" fill="url(#g244_546)"/>
<rect x="597.0" y="96" width="6.6" height="80" fill="url(#g244_546)"/>
<rect x="603.0" y="96" width="6.6" height="80" fill="url(#g245_546)"/>
<rect x="609.0" y="96" width="6.6" height="80" fill="url(#g245_546)"/>
<rect x="615.0" y="96" width="6.6" height="80" fill="url(#g244_546)"/>
<rect x="621.0" y="96" width="6.6" height="80" fill="url(#g243_546)"/>
<rect x="627.0" y="96" width="6.6" height="80" fill="url(#g243_546)"/>
<rect x="633.0" y="96" width="6.6" height="80" fill="url(#g242_546)"/>
<rect x="639.0" y="96" width="6.6" height="80" fill="url(#g242_546)"/>
<rect x="645.0" y="96" width="6.6" height="80" fill="url(#g241_546)"/>
<rect x="651.0" y="96" width="6.6" height="80" fill="url(#g240_546)"/>
<rect x="657.0" y="96" width="6.6" height="80" fill="url(#g240_546)"/>
<rect x="663.0" y="96" width="6.6" height="80" fill="url(#g239_546)"/>
<rect x="669.0" y="96" width="6.6" height="80" fill="url(#g239_546)"/>
<rect x="675.0" y="96" width="6.6" height="80" fill="url(#g238_546)"/>
<rect x="681.0" y="96" width="6.6" height="80" fill="url(#g237_546)"/>
<rect x="687.0" y="96" width="6.6" height="80" fill="url(#g237_546)"/>
<rect x="693.0" y="96" width="6.6" height="80" fill="url(#g237_546)"/>
<rect x="699.0" y="96" width="6.6" height="80" fill="url(#g236_546)"/>
<rect x="705.0" y="96" width="6.6" height="80" fill="url(#g236_546)"/>
<rect x="711.0" y="96" width="6.6" height="80" fill="url(#g235_546)"/>
<rect x="717.0" y="96" width="6.6" height="80" fill="url(#g236_546)"/>
<rect x="723.0" y="96" width="6.6" height="80" fill="url(#g236_546)"/>
<rect x="729.0" y="96" width="6.6" height="80" fill="url(#g236_546)"/>
<rect x="735.0" y="96" width="6.6" height="80" fill="url(#g237_546)"/>
<rect x="741.0" y="96" width="6.6" height="80" fill="url(#g237_546)"/>
<rect x="747.0" y="96" width="6.6" height="80" fill="url(#g237_546)"/>
<rect x="753.0" y="96" width="6.6" height="80" fill="url(#g238_545)"/>
<rect x="759.0" y="96" width="6.6" height="80" fill="url(#g238_545)"/>
<rect x="765.0" y="96" width="6.6" height="80" fill="url(#g238_544)"/>
<rect x="771.0" y="96" width="6.6" height="80" fill="url(#g239_544)"/>
<rect x="777.0" y="96" width="6.6" height="80" fill="url(#g239_544)"/>
<rect x="783.0" y="96" width="6.6" height="80" fill="url(#g239_544)"/>
<rect x="789.0" y="96" width="6.6" height="80" fill="url(#g239_544)"/>
<rect x="795.0" y="96" width="6.6" height="80" fill="url(#g240_544)"/>
<rect x="801.0" y="96" width="6.6" height="80" fill="url(#g240_544)"/>
<rect x="807.0" y="96" width="6.6" height="80" fill="url(#g240_544)"/>
<rect x="813.0" y="96" width="6.6" height="80" fill="url(#g240_544)"/>
<rect x="819.0" y="96" width="6.6" height="80" fill="url(#g240_544)"/>
<rect x="825.0" y="96" width="6.6" height="80" fill="url(#g240_544)"/>
<rect x="831.0" y="96" width="6.6" height="80" fill="url(#g240_544)"/>
<rect x="837.0" y="96" width="6.6" height="80" fill="url(#g240_544)"/>
<rect x="843.0" y="96" width="6.6" height="80" fill="url(#g239_544)"/>
<rect x="849.0" y="96" width="6.6" height="80" fill="url(#g238_544)"/>
<rect x="855.0" y="96" width="6.6" height="80" fill="url(#g238_544)"/>
<rect x="861.0" y="96" width="6.6" height="80" fill="url(#g237_544)"/>
<rect x="867.0" y="96" width="6.6" height="80" fill="url(#g237_544)"/>
<rect x="873.0" y="96" width="6.6" height="80" fill="url(#g236_544)"/>
<rect x="879.0" y="96" width="6.6" height="80" fill="url(#g236_544)"/>
<rect x="885.0" y="96" width="6.6" height="80" fill="url(#g235_544)"/>
<rect x="891.0" y="96" width="6.6" height="80" fill="url(#g235_544)"/>
<rect x="897.0" y="96" width="6.6" height="80" fill="url(#g234_544)"/>
<rect x="903.0" y="96" width="6.6" height="80" fill="url(#g233_544)"/>
<rect x="909.0" y="96" width="6.6" height="80" fill="url(#g233_544)"/>
<rect x="915.0" y="96" width="6.6" height="80" fill="url(#g232_544)"/>
<rect x="921.0" y="96" width="6.6" height="80" fill="url(#g232_544)"/>
<rect x="927.0" y="96" width="6.6" height="80" fill="url(#g231_544)"/>
<rect x="933.0" y="96" width="6.6" height="80" fill="url(#g231_544)"/>
<rect x="939.0" y="96" width="6.6" height="80" fill="url(#g232_544)"/>
<rect x="945.0" y="96" width="6.6" height="80" fill="url(#g232_544)"/>
<rect x="951.0" y="96" width="6.6" height="80" fill="url(#g232_544)"/>
<rect x="957.0" y="96" width="6.6" height="80" fill="url(#g232_544)"/>
<rect x="963.0" y="96" width="6.6" height="80" fill="url(#g232_544)"/>
<rect x="969.0" y="96" width="6.6" height="80" fill="url(#g233_544)"/>
<rect x="975.0" y="96" width="6.6" height="80" fill="url(#g234_544)"/>
<rect x="981.0" y="96" width="6.6" height="80" fill="url(#g234_544)"/>
<rect x="987.0" y="96" width="6.6" height="80" fill="url(#g235_544)"/>
<rect x="993.0" y="96" width="6.6" height="80" fill="url(#g235_544)"/>
<path d="M264 109.2L534 109.2M538 108L572 107.8" stroke="#000058" stroke-width="1.5" fill="none" opacity="0.85"/>
</g>
</g>
<g stroke="#000" stroke-opacity="0.8" stroke-width="1.75" fill="none">
<path d="M84.1 98.6H1002"/>
<path d="M84.1 127.6H1002"/>
<path d="M84.1 154.9H1002"/>
<path d="M84.1 182.5H1002"/>
<path d="M93.9 89V182.5M993.4 89V182.5"/>
<path d="M535.2 89V178.8"/>
<path d="M111.3 89V98.6M111.3 182.5V195.6"/>
<path d="M227.3 89V98.6M227.3 182.5V195.6"/>
<path d="M343.4 89V98.6M343.4 182.5V195.6"/>
<path d="M459.4 89V98.6M459.4 182.5V195.6"/>
<path d="M575.5 89V98.6M575.5 182.5V195.6"/>
<path d="M691.5 89V98.6M691.5 182.5V195.6"/>
<path d="M807.5 89V98.6M807.5 182.5V195.6"/>
<path d="M923.6 89V98.6M923.6 182.5V195.6"/>
<path d="M134.5 171V182.5"/>
<path d="M157.7 171V182.5"/>
<path d="M180.9 171V182.5"/>
<path d="M204.1 171V182.5"/>
<path d="M250.5 171V182.5"/>
<path d="M273.8 171V182.5"/>
<path d="M297.0 171V182.5"/>
<path d="M320.2 171V182.5"/>
<path d="M366.6 171V182.5"/>
<path d="M389.8 171V182.5"/>
<path d="M413.0 171V182.5"/>
<path d="M436.2 171V182.5"/>
<path d="M482.6 171V182.5"/>
<path d="M505.8 171V182.5"/>
<path d="M529.0 171V182.5"/>
<path d="M552.3 171V182.5"/>
<path d="M598.7 171V182.5"/>
<path d="M621.9 171V182.5"/>
<path d="M645.1 171V182.5"/>
<path d="M668.3 171V182.5"/>
<path d="M714.7 171V182.5"/>
<path d="M737.9 171V182.5"/>
<path d="M761.1 171V182.5"/>
<path d="M784.3 171V182.5"/>
<path d="M830.7 171V182.5"/>
<path d="M854.0 171V182.5"/>
<path d="M877.2 171V182.5"/>
<path d="M900.4 171V182.5"/>
<path d="M946.8 171V182.5"/>
<path d="M970.0 171V182.5"/>
</g>
<path d="M130.0 150.5C131.7 150.2 135.7 149.7 140.0 149.0C144.3 148.3 150.7 147.7 156.0 146.6C161.3 145.5 166.8 143.7 172.0 142.5C177.2 141.3 183.2 140.1 187.0 139.5C190.8 138.9 192.5 138.9 195.0 139.0C197.5 139.1 199.2 139.1 202.0 139.8C204.8 140.5 208.7 141.9 212.0 143.0C215.3 144.1 219.0 145.8 222.0 146.6C225.0 147.4 226.2 147.7 230.0 148.0C233.8 148.3 239.2 148.4 245.0 148.3C250.8 148.2 258.5 147.4 265.0 147.2C271.5 147.0 279.0 146.9 284.0 147.0C289.0 147.1 291.9 147.1 295.0 147.5C298.1 147.9 300.4 148.4 302.5 149.2C304.6 149.9 306.2 150.5 307.5 152.0C308.8 153.5 309.3 156.1 310.0 158.0C310.7 159.9 310.6 162.0 311.5 163.5C312.4 165.0 313.8 166.4 315.5 167.2C317.2 168.0 319.8 168.3 322.0 168.3C324.2 168.3 327.0 168.1 329.0 167.3C331.0 166.5 332.9 165.1 334.2 163.5C335.4 161.9 335.5 159.6 336.5 158.0C337.5 156.4 338.1 155.2 340.0 154.0C341.9 152.8 343.4 152.1 348.0 150.5C352.6 148.9 360.7 146.5 367.7 144.6C374.7 142.7 383.5 140.6 390.0 139.0C396.5 137.4 400.0 136.0 406.7 134.9C413.4 133.8 420.3 133.2 430.0 132.3C439.7 131.4 453.3 130.2 465.0 129.2C476.7 128.1 488.3 126.7 500.0 126.0C511.7 125.3 523.3 125.2 535.0 125.0C546.7 124.8 557.5 124.8 570.0 125.0C582.5 125.2 598.0 126.1 610.0 126.0C622.0 125.9 630.3 125.1 642.0 124.5C653.7 123.9 667.8 123.0 680.0 122.5C692.2 122.0 701.7 121.2 715.0 121.2C728.3 121.2 745.8 122.1 760.0 122.5C774.2 122.9 786.3 123.4 800.0 123.5C813.7 123.6 828.7 123.6 842.0 123.3C855.3 123.0 864.8 122.2 880.0 121.5C895.2 120.8 919.7 119.5 933.0 119.2C946.3 118.9 951.0 119.2 960.0 119.5C969.0 119.8 982.5 120.8 987.0 121.0" stroke="#000" stroke-width="3.6" fill="none" stroke-linecap="round" stroke-linejoin="round"/>
<path d="M500 125.6L540 124.6L580 124.8L610 125.6" stroke="#000" stroke-width="4" fill="none"/>
<path d="M714.9 87.4L713.2 112.2" stroke="#000" stroke-width="3.3" fill="none"/>
<rect x="128" y="112.4" width="130.8" height="18.2" fill="#fff"/>
<text x="128.4" y="127.2" font-size="17.15">Sand and Gravel</text>
<rect x="316.5" y="126.7" width="15.5" height="23.3" fill="#fff"/>
<text x="323.8" y="145.2" font-size="20.8" text-anchor="middle">A</text>
<rect x="674.2" y="137.2" width="77.6" height="18.8" fill="#fff"/>
<text x="674.2" y="152.3" font-size="17.2">Diamicton</text>
<text x="548.5" y="24.6" font-size="24.1" text-anchor="middle">Line 4A, 20 WET iterations, RMS error 1.5%</text>
<text x="62.6" y="83" font-size="17.4">Line 2A</text>
<text x="537.7" y="83.2" font-size="17.05" text-anchor="middle">Line 0001</text>
<text x="1018.4" y="81" font-size="17.4" text-anchor="end">Line 3A</text>
<text x="716.7" y="80.9" font-size="20.8" text-anchor="middle">B</text>
<text x="80" y="106.7" font-size="17" text-anchor="end">0</text>
<text x="80" y="134.0" font-size="17" text-anchor="end">-10</text>
<text x="80" y="160.5" font-size="17" text-anchor="end">-20</text>
<text x="80" y="187.0" font-size="17" text-anchor="end">-30</text>
<text x="111.3" y="212" font-size="17" text-anchor="middle">0</text>
<text x="227.3" y="212" font-size="17" text-anchor="middle">100</text>
<text x="343.4" y="212" font-size="17" text-anchor="middle">200</text>
<text x="459.4" y="212" font-size="17" text-anchor="middle">300</text>
<text x="575.5" y="212" font-size="17" text-anchor="middle">400</text>
<text x="691.5" y="212" font-size="17" text-anchor="middle">500</text>
<text x="807.5" y="212" font-size="17" text-anchor="middle">600</text>
<text x="923.6" y="212" font-size="17" text-anchor="middle">700</text>
<text x="544.2" y="241.1" font-size="20.65" text-anchor="middle">Distance (meters)</text>
<text transform="translate(22,145) rotate(-90)" font-size="20.8" text-anchor="middle">Depth</text>
<text transform="translate(41.8,145.2) rotate(-90)" font-size="20.8" text-anchor="middle">(meters)</text>
<rect x="343.5" y="300.1" width="394.5" height="41.2" fill="url(#cbg)" stroke="#000" stroke-width="2"/>
<path d="M402.0 294.8V300" stroke="#222" stroke-width="1.6"/>
<text transform="translate(408.1,293) rotate(-90)" font-size="17">3000</text>
<path d="M461.8 294.8V300" stroke="#222" stroke-width="1.6"/>
<text transform="translate(467.9,293) rotate(-90)" font-size="17">2500</text>
<path d="M521.8 294.8V300" stroke="#222" stroke-width="1.6"/>
<text transform="translate(527.9,293) rotate(-90)" font-size="17">2000</text>
<path d="M582.0 294.8V300" stroke="#222" stroke-width="1.6"/>
<text transform="translate(588.1,293) rotate(-90)" font-size="17">1500</text>
<path d="M642.3 294.8V300" stroke="#222" stroke-width="1.6"/>
<text transform="translate(648.4,293) rotate(-90)" font-size="17">1000</text>
<path d="M702.7 294.8V300" stroke="#222" stroke-width="1.6"/>
<text transform="translate(708.8,293) rotate(-90)" font-size="17">500</text>
<circle cx="502.7" cy="295.4" r="0.7" fill="#333"/><circle cx="687.1" cy="295.5" r="0.7" fill="#333"/>
<text x="532" y="358.8" font-size="17" text-anchor="middle">Velocity (m/sec)</text>
</svg></body></html>
